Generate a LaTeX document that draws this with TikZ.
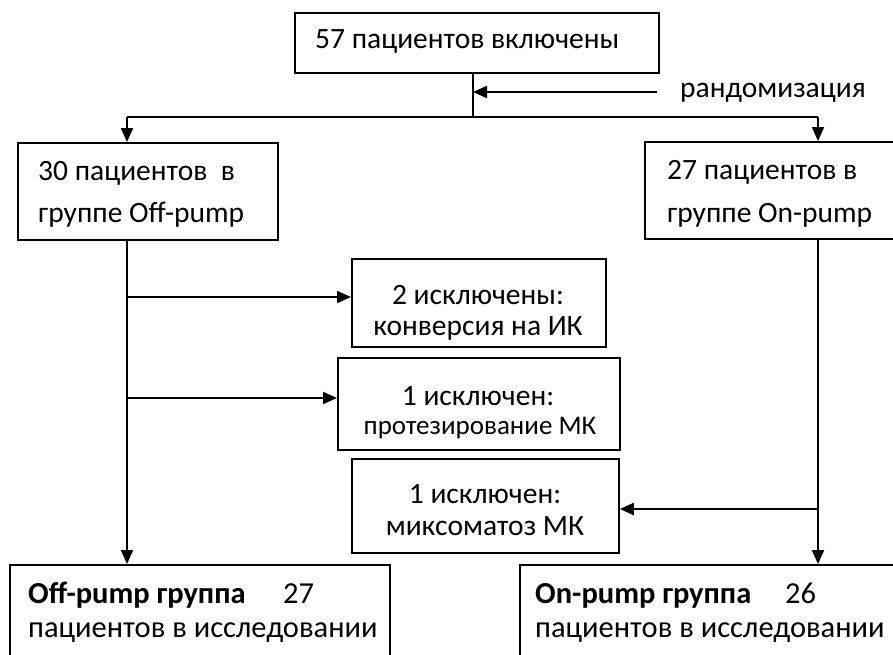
\documentclass[tikz,border=0pt]{standalone}
\usepackage{fontspec}
\setmainfont{Carlito}
\usetikzlibrary{arrows.meta}
\begin{document}
\begin{tikzpicture}[x=1pt,y=-1pt,
  box/.style={draw, line width=1.8pt, inner sep=0pt, anchor=north west},
  ln/.style={line width=2pt},
  arr/.style={line width=2pt, -{Triangle[length=14pt,width=12pt]}},
  txt/.style={anchor=base west, inner sep=0pt, font=\fontsize{29.5}{35}\selectfont},
  btxt/.style={anchor=base west, inner sep=0pt, font=\fontsize{30.5}{36}\selectfont},
  ctxt/.style={anchor=base, inner sep=0pt, font=\fontsize{29.5}{35}\selectfont},
  stxt/.style={anchor=base, inner sep=0pt, font=\fontsize{27}{32}\selectfont}]
\useasboundingbox (0,0) rectangle (893,654);
% boxes
\node[box, minimum width=364pt, minimum height=60pt] (top) at (294,12) {};
\node[box, minimum width=260pt, minimum height=97pt] (left) at (17,142) {};
\node[box, minimum width=252pt, minimum height=97pt] (right) at (644,141) {};
\node[box, minimum width=254pt, minimum height=88pt] (box2) at (351,258) {};
\node[box, minimum width=282pt, minimum height=92pt] (box3) at (337,357) {};
\node[box, minimum width=267pt, minimum height=94pt] (box4) at (351,458) {};
\node[box, minimum width=380pt, minimum height=95pt] (botL) at (9,564) {};
\node[box, minimum width=380pt, minimum height=95pt] (botR) at (519,564) {};
% texts
\node[txt] (t0) at (315,48) {57 пациентов включены};
\node[txt] (rand) at (680,97) {рандомизация};
\node[txt] (tl1) at (38,180) {30 пациентов \ в};
\node[txt] (tl2) at (38,222) {группе Off-pump};
\node[txt] (tr1) at (667,179) {27 пациентов в};
\node[txt] (tr2) at (667,222) {группе On-pump};
\node[ctxt] (t21) at (478,304) {2 исключены:};
\node[ctxt] (t22) at (478,335) {конверсия на ИК};
\node[ctxt] (t31) at (478,405) {1 исключен:};
\node[stxt] (t32) at (480,434) {протезирование МК};
\node[ctxt] (t41) at (485,503) {1 исключен:};
\node[ctxt] (t42) at (485,535) {миксоматоз МК};
\node[btxt] (bl1) at (28,603) {\bfseries Off-pump группа};
\node[btxt] (bl1n) at (283,603) {27};
\node[btxt] (bl2) at (28,637) {пациентов в исследовании};
\node[btxt] (br1) at (535,603) {\bfseries On-pump группа};
\node[btxt] (br1n) at (785,603) {26};
\node[btxt] (br2) at (535,637) {пациентов в исследовании};
% connectors
\coordinate (split) at (473,117);
\coordinate (randin) at (657,92);
\coordinate (hl) at (127,117);
\coordinate (hr) at (818,117);
\coordinate (b2) at (127,297);
\coordinate (b3) at (127,398);
\coordinate (b4) at (818,509);
\draw[ln] (split |- top.south) -- (split);
\draw[arr] (randin) -- (split |- randin);
\draw[ln] (hl) -- (hr);
\draw[arr] (hl) -- (hl |- left.north);
\draw[arr] (hr) -- (hr |- right.north);
\draw[arr] (hl |- left.south) -- (hl |- botL.north);
\draw[arr] (hr |- right.south) -- (hr |- botR.north);
\draw[arr] (b2) -- (b2 -| box2.west);
\draw[arr] (b3) -- (b3 -| box3.west);
\draw[arr] (b4) -- (b4 -| box4.east);
\end{tikzpicture}
\end{document}
